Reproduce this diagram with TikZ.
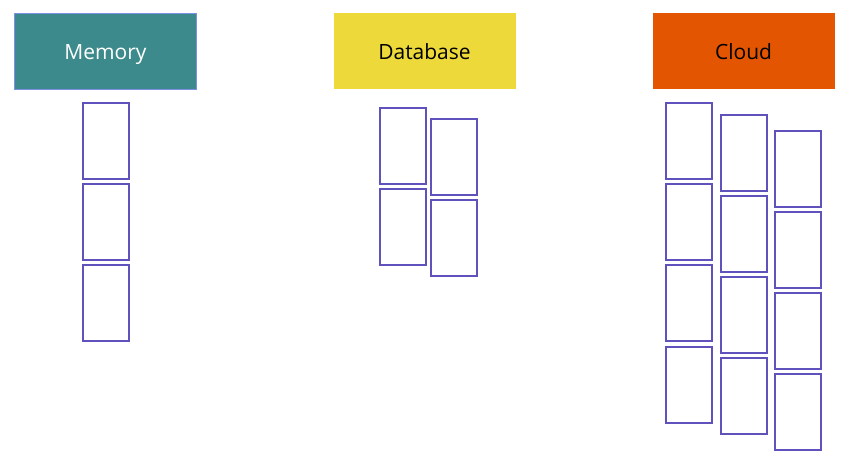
\documentclass[tikz,border=0pt]{standalone}
\usepackage{fontspec}
\setmainfont{Open Sans}
\definecolor{teal1}{HTML}{3D8A8C}
\definecolor{yel1}{HTML}{EDDA3A}
\definecolor{org1}{HTML}{E35500}
\definecolor{cellc}{HTML}{5F52BC}
\definecolor{edgec}{HTML}{7E8FE6}
\begin{document}
\begin{tikzpicture}[x=1pt,y=-1pt,
  header/.style={minimum width=182pt,minimum height=76pt,inner sep=0pt,text height=16pt,text depth=0pt,font=\fontsize{21}{25}\selectfont},
  cell/.style={draw=cellc,line width=1.8pt,minimum width=46pt,minimum height=76pt,inner sep=0pt,fill=white}]
\useasboundingbox[fill=white] (0,0) rectangle (852,461);
\node[header,fill=teal1,draw=edgec,line width=0.8pt,text=white] (mem) at (105.5,51.5) {Memory};
\node[header,fill=yel1,text=black] (db) at (424.5,51) {Database};
\node[header,fill=org1,text=black] (cloud) at (743.5,51) {Cloud};
% memory
\node[cell] (m1) at (106,141) {};
\node[cell] (m2) at (106,222) {};
\node[cell] (m3) at (106,303) {};
% database
\node[cell] (d1) at (403,146) {};
\node[cell] (d2) at (403,227) {};
\node[cell] (d3) at (454,157) {};
\node[cell] (d4) at (454,238) {};
% cloud
\node[cell] (c1) at (689,141) {};
\node[cell] (c2) at (689,222) {};
\node[cell] (c3) at (689,303) {};
\node[cell] (c4) at (689,385) {};
\node[cell] (c5) at (744,153) {};
\node[cell] (c6) at (744,234) {};
\node[cell] (c7) at (744,315) {};
\node[cell] (c8) at (744,396) {};
\node[cell] (c9) at (798,169) {};
\node[cell] (c10) at (798,250) {};
\node[cell] (c11) at (798,331) {};
\node[cell] (c12) at (798,412) {};
\end{tikzpicture}
\end{document}
